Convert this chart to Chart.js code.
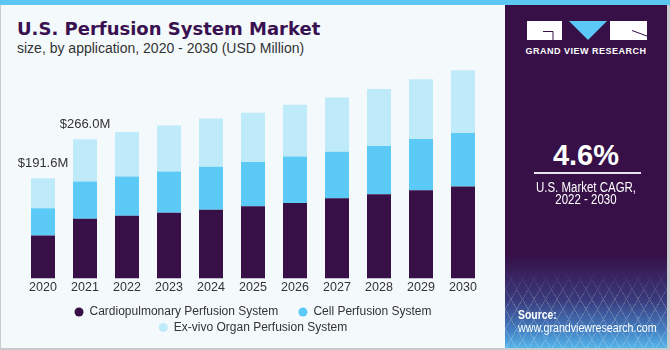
<!DOCTYPE html>
<html>
<head>
<meta charset="utf-8">
<script src="https://cdn.jsdelivr.net/npm/chart.js@4"></script>
<style>
  html, body { margin: 0; padding: 0; }
  body {
    width: 670px; height: 350px; position: relative; overflow: hidden;
    background: #f4f9fc;
    font-family: "Liberation Sans", Arial, sans-serif;
  }
  #strip { position: absolute; left: 0; top: 0; width: 670px; height: 5px; background: #5cc7f0; }
  #left { position: absolute; left: 0; top: 5px; width: 504px; height: 343px; background: #f4f9fc; border-left: 1px solid #c9cdd0; }
  #bottomline { position: absolute; left: 0; top: 348px; width: 670px; height: 2px; background: #c9cbcd; }
  #rightline { position: absolute; left: 667px; top: 5px; width: 3px; height: 345px; background: #c9cbcd; }
  #side {
    position: absolute; left: 505px; top: 5px; width: 162px; height: 343px;
    background: linear-gradient(to bottom, #371047 0px, #371047 250px, #393a7c 295px, #437fc2 325px, #55b5ea 343px);
  }
  #grid {
    position: absolute; left: 505px; top: 270px; width: 162px; height: 78px; opacity: 0.18;
    background:
      repeating-linear-gradient(60deg, transparent 0 9px, #ffffff 9px 10px),
      repeating-linear-gradient(-60deg, transparent 0 9px, #ffffff 9px 10px);
    -webkit-mask-image: linear-gradient(to bottom, transparent, #000 40%);
  }
  #title { position: absolute; left: 17px; top: 20px; font: bold 18px/18px "DejaVu Sans", sans-serif; color: #3a1150; white-space: nowrap; }
  #sub { position: absolute; left: 17px; top: 41px; font-size: 14px; line-height: 14px; color: #333; white-space: nowrap; }
  #chartbox { position: absolute; left: 0; top: 60px; width: 505px; height: 288px; }
  .side-txt { position: absolute; left: 505px; width: 162px; text-align: center; color: #fff; white-space: nowrap; }
  .narrow { transform: scaleX(0.82); }
  #cagr { top: 141px; font: bold 29px/29px "Liberation Sans", Arial, sans-serif; }
  #cagrline { position: absolute; left: 534px; top: 172px; width: 107px; height: 1.5px; background: #e8e4ee; }
  #cagr1 { top: 180px; font-size: 14px; line-height: 14px; }
  #cagr2 { top: 192px; font-size: 14px; line-height: 14px; }
  #logotext { top: 46px; font: bold 9px/10px "Liberation Sans", Arial, sans-serif; letter-spacing: 0.5px; }
  #src1 { position: absolute; left: 518px; top: 308px; color: #fff; font: bold 13px/13px "Liberation Sans", Arial, sans-serif; transform: scaleX(0.8); transform-origin: left center; }
  #src2 { position: absolute; left: 518px; top: 321px; color: #fff; font-size: 13px; line-height: 13px; white-space: nowrap; transform: scaleX(0.82); transform-origin: left center; }
  #logo { position: absolute; left: 527px; top: 21px; }
</style>
</head>
<body>
<div id="left"></div>
<div id="side"></div>
<div id="grid"></div>
<div id="strip"></div>
<div id="rightline"></div>
<div id="bottomline"></div>

<div id="title">U.S. Perfusion System Market</div>
<div id="sub">size, by application, 2020 - 2030 (USD Million)</div>

<div id="chartbox"><canvas id="chart"></canvas></div>

<svg id="logo" width="120" height="19" viewBox="0 0 120 19">
  <rect x="0" y="0" width="35" height="19" fill="#fff"/>
  <polyline points="16,10.5 26,10.5 26,19" fill="none" stroke="#371047" stroke-width="1"/>
  <polygon points="42,0 80,0 61,19" fill="#5bc8f5"/>
  <rect x="83" y="0" width="37" height="19" fill="#fff"/>
  <line x1="105" y1="9.5" x2="120" y2="15" stroke="#371047" stroke-width="1"/>
</svg>
<div id="logotext" class="side-txt">GRAND VIEW RESEARCH</div>

<div id="cagr" class="side-txt">4.6%</div>
<div id="cagrline"></div>
<div id="cagr1" class="side-txt narrow">U.S. Market CAGR,</div>
<div id="cagr2" class="side-txt narrow">2022 - 2030</div>
<div id="src1">Source:</div>
<div id="src2">www.grandviewresearch.com</div>

<script>
// Values (USD Million)
const years = ['2020', '2021', '2022', '2023', '2024', '2025', '2026', '2027', '2028', '2029', '2030'];
const cardiopulmonary = [82.4, 114.0, 119.8, 125.6, 131.3, 137.9, 144.2, 153.3, 161.0, 168.7, 175.8];
const cellPerfusion   = [51.7, 71.2, 75.0, 78.8, 82.1, 84.6, 89.2, 89.0, 92.3, 98.1, 102.5];
const exVivoOrgan     = [57.5, 80.8, 85.4, 87.9, 92.3, 94.2, 98.7, 103.8, 109.0, 114.0, 119.8];
const totalLabelIndex = [0, 1];
const totalLabelText  = ['$191.6M', '$266.0M'];

const FONT = '"Liberation Sans", Arial, sans-serif';
Chart.defaults.font.family = FONT;
Chart.defaults.color = '#333';

// draws the "$191.6M" style totals above the first two stacks
const totalLabels = {
  id: 'totalLabels',
  afterDatasetsDraw(chart) {
    const meta = chart.getDatasetMeta(2);
    const c = chart.ctx;
    c.save();
    c.font = '13px ' + FONT;
    c.fillStyle = '#333';
    c.textAlign = 'center';
    c.textBaseline = 'middle';
    totalLabelIndex.forEach((idx, k) => {
      const bar = meta.data[idx];
      c.fillText(totalLabelText[k], bar.x, bar.y - 15);
    });
    c.restore();
  }
};

const common = { borderWidth: 0, categoryPercentage: 0.8, barPercentage: 0.714 };

new Chart(document.getElementById('chart'), {
  type: 'bar',
  data: {
    labels: years,
    datasets: [
      Object.assign({ label: 'Cardiopulmonary Perfusion System', data: cardiopulmonary, backgroundColor: '#371048' }, common),
      Object.assign({ label: 'Cell Perfusion System', data: cellPerfusion, backgroundColor: '#5ccaf6' }, common),
      Object.assign({ label: 'Ex-vivo Organ Perfusion System', data: exVivoOrgan, backgroundColor: '#bfeafa' }, common)
    ]
  },
  options: {
    responsive: true,
    maintainAspectRatio: false,
    animation: false,
    layout: { padding: { top: 4, left: 22, right: 21, bottom: 4.5 } },
    plugins: {
      title: { display: false },
      tooltip: { enabled: false },
      legend: {
        position: 'bottom',
        labels: {
          usePointStyle: true,
          pointStyle: 'circle',
          pointStyleWidth: 9,
          boxHeight: 6.4,
          padding: 3.5,
          color: '#333',
          font: { size: 12 },
          generateLabels(chart) {
            const items = Chart.defaults.plugins.legend.labels.generateLabels(chart);
            items[0].text += '     ';
            return items;
          }
        }
      }
    },
    scales: {
      x: {
        stacked: true,
        grid: { display: false, drawTicks: false },
        border: { display: false },
        ticks: { color: '#333', font: { size: 12.5 }, padding: 1.5 },
        afterFit(scale) { scale.height += 6; }
      },
      y: {
        stacked: true,
        display: false,
        min: 0,
        max: 410
      }
    }
  },
  plugins: [totalLabels]
});
</script>
</body>
</html>
